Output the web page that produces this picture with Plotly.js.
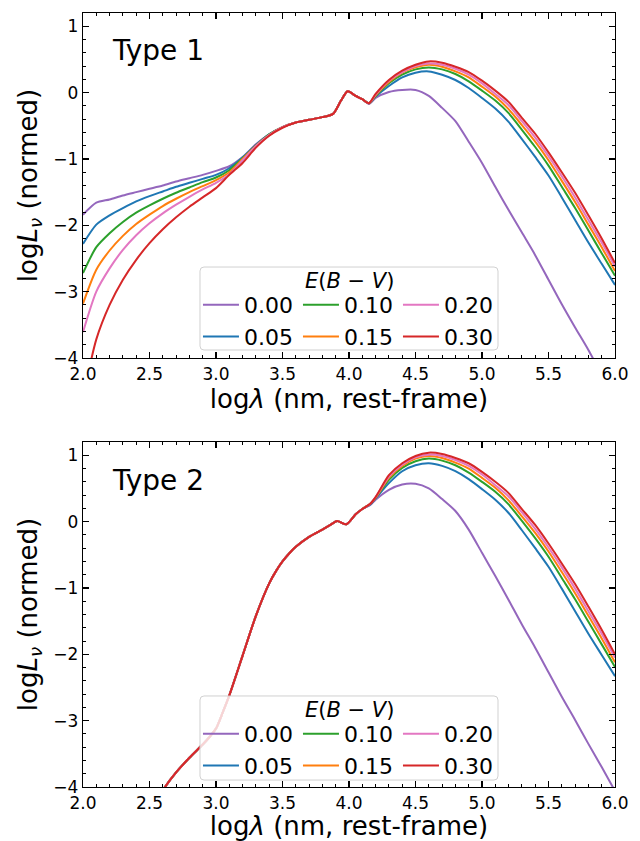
<!DOCTYPE html>
<html><head><meta charset="utf-8">
<script src="https://cdn.plot.ly/plotly-3.0.1.min.js"></script>
<style>html,body{margin:0;padding:0;background:#fff}#plot{width:640px;height:841px}</style>
</head><body><div id="plot"></div>
<script>
// ---------- data ----------
const ebvLabels = ['0.00', '0.05', '0.10', '0.15', '0.20', '0.30'];
const colors = ['#9467bd', '#1f77b4', '#2ca02c', '#ff7f0e', '#e377c2', '#d62728'];

// Type 1 (top panel)
const xType1 = [2.0, 2.1, 2.2, 2.3, 2.4, 2.5, 2.6, 2.7, 2.8, 2.9,
  3.0, 3.1, 3.2, 3.3, 3.4, 3.5, 3.6, 3.7, 3.8,
  3.88, 3.94, 3.99, 4.05, 4.1, 4.15,
  4.2, 4.3, 4.4, 4.5, 4.6, 4.7, 4.8, 4.9, 5.0, 5.1, 5.2, 5.3, 5.4, 5.5, 5.6, 5.7, 5.8, 5.9, 6.0];
const t1_000 = [-1.84, -1.66, -1.61, -1.55, -1.50, -1.45, -1.40, -1.34, -1.29, -1.24,
  -1.18, -1.11, -0.97, -0.78, -0.63, -0.52, -0.45, -0.41, -0.37,
  -0.32, -0.12, 0.02, -0.05, -0.10, -0.17,
  -0.08, 0.01, 0.04, 0.04, -0.05, -0.23, -0.43, -0.74, -1.06, -1.42, -1.77, -2.11, -2.45, -2.82, -3.19, -3.54, -3.88, -4.25, -4.60];
const t1_005 = [-2.28, -1.99, -1.85, -1.74, -1.64, -1.56, -1.49, -1.42, -1.36, -1.30,
  -1.24, -1.14, -0.98, -0.79, -0.63, -0.52, -0.45, -0.41, -0.37,
  -0.32, -0.12, 0.02, -0.05, -0.10, -0.16,
  -0.06, 0.10, 0.23, 0.30, 0.32, 0.27, 0.19, 0.07, -0.08, -0.24, -0.44, -0.70, -0.97, -1.25, -1.58, -1.92, -2.26, -2.58, -2.90];
const t1_010 = [-2.72, -2.33, -2.12, -1.95, -1.81, -1.70, -1.60, -1.51, -1.43, -1.35,
  -1.28, -1.17, -0.99, -0.80, -0.63, -0.52, -0.45, -0.41, -0.37,
  -0.32, -0.12, 0.02, -0.05, -0.10, -0.16,
  -0.05, 0.14, 0.27, 0.35, 0.38, 0.35, 0.28, 0.17, 0.03, -0.12, -0.31, -0.56, -0.82, -1.10, -1.42, -1.74, -2.08, -2.42, -2.76];
const t1_015 = [-3.18, -2.67, -2.38, -2.16, -1.98, -1.84, -1.71, -1.60, -1.50, -1.41,
  -1.32, -1.20, -1.00, -0.80, -0.64, -0.52, -0.45, -0.41, -0.37,
  -0.32, -0.12, 0.02, -0.05, -0.10, -0.16,
  -0.04, 0.16, 0.30, 0.38, 0.42, 0.39, 0.32, 0.23, 0.09, -0.06, -0.25, -0.49, -0.74, -1.02, -1.33, -1.65, -1.99, -2.33, -2.69];
const t1_020 = [-3.61, -3.00, -2.65, -2.37, -2.15, -1.97, -1.82, -1.69, -1.57, -1.46,
  -1.36, -1.23, -1.02, -0.81, -0.64, -0.52, -0.45, -0.41, -0.37,
  -0.32, -0.12, 0.02, -0.05, -0.10, -0.16,
  -0.03, 0.18, 0.31, 0.40, 0.44, 0.42, 0.36, 0.27, 0.14, -0.02, -0.19, -0.43, -0.68, -0.96, -1.26, -1.58, -1.92, -2.26, -2.62];
const t1_030 = [-4.60, -3.72, -3.20, -2.82, -2.52, -2.27, -2.06, -1.88, -1.72, -1.58,
  -1.44, -1.24, -1.06, -0.83, -0.65, -0.53, -0.45, -0.41, -0.37,
  -0.32, -0.12, 0.02, -0.05, -0.10, -0.16,
  -0.02, 0.19, 0.33, 0.42, 0.47, 0.45, 0.39, 0.31, 0.18, 0.03, -0.14, -0.38, -0.62, -0.90, -1.20, -1.51, -1.85, -2.20, -2.57];

// Type 2 (bottom panel)
const xType2 = [2.4, 2.5, 2.6, 2.7, 2.8, 2.9, 2.95, 3.0, 3.05, 3.1, 3.2, 3.3, 3.4, 3.45, 3.5, 3.55, 3.6, 3.7, 3.8,
  3.86, 3.91, 3.98, 4.05, 4.1,
  4.16, 4.2, 4.3, 4.4, 4.5, 4.6, 4.7, 4.8, 4.9, 5.0, 5.1, 5.2, 5.3, 5.4, 5.5, 5.6, 5.7, 5.8, 5.9, 6.0];
const t2_shared = [-4.75, -4.40, -4.05, -3.78, -3.56, -3.36, -3.25, -3.12, -2.88, -2.62, -2.02, -1.42, -0.93, -0.75, -0.60, -0.48, -0.38, -0.23, -0.12,
  -0.05, 0.01, -0.04, 0.11, 0.19];
const t2_000 = [0.25, 0.33, 0.48, 0.56, 0.57, 0.50, 0.34, 0.16, -0.12, -0.47, -0.82, -1.18, -1.55, -1.90, -2.27, -2.64, -2.99, -3.35, -3.70, -4.06];
const t2_005 = [0.26, 0.35, 0.58, 0.76, 0.85, 0.88, 0.84, 0.76, 0.64, 0.49, 0.33, 0.13, -0.13, -0.40, -0.68, -1.01, -1.35, -1.69, -2.01, -2.33];
const t2_010 = [0.27, 0.36, 0.63, 0.81, 0.91, 0.95, 0.92, 0.85, 0.74, 0.60, 0.45, 0.26, 0.01, -0.25, -0.53, -0.85, -1.17, -1.51, -1.85, -2.19];
const t2_015 = [0.27, 0.36, 0.66, 0.84, 0.95, 0.99, 0.96, 0.89, 0.80, 0.66, 0.51, 0.32, 0.08, -0.17, -0.45, -0.76, -1.08, -1.42, -1.76, -2.12];
const t2_020 = [0.27, 0.37, 0.68, 0.86, 0.97, 1.01, 0.99, 0.93, 0.84, 0.71, 0.55, 0.38, 0.14, -0.11, -0.39, -0.69, -1.01, -1.35, -1.69, -2.05];
const t2_030 = [0.27, 0.37, 0.70, 0.88, 0.99, 1.04, 1.02, 0.96, 0.88, 0.75, 0.60, 0.43, 0.19, -0.05, -0.33, -0.63, -0.94, -1.28, -1.63, -2.00];

const type1Series = [t1_000, t1_005, t1_010, t1_015, t1_020, t1_030];
const type2Series = [t2_000, t2_005, t2_010, t2_015, t2_020, t2_030];
const groups = ['c1', 'c1', 'c2', 'c2', 'c3', 'c3'];
const legendTitle = '<i>E</i>(<i>B</i> − <i>V</i>)';
const panelLabels = ['Type 1', 'Type 2'];

// ---------- traces ----------
const traces = [];
type1Series.forEach((ys, i) => {
  traces.push({x: xType1, y: ys, type: 'scatter', mode: 'lines', name: ebvLabels[i],
    line: {color: colors[i], width: 2, shape: 'spline', smoothing: 0.7}, xaxis: 'x', yaxis: 'y',
    legend: 'legend', legendgroup: 'top' + groups[i]});
});
type2Series.forEach((tail, i) => {
  traces.push({x: xType2, y: t2_shared.concat(tail), type: 'scatter', mode: 'lines', name: ebvLabels[i],
    line: {color: colors[i], width: 2, shape: 'spline', smoothing: 0.7}, xaxis: 'x2', yaxis: 'y2',
    legend: 'legend2', legendgroup: 'bot' + groups[i]});
});

// ---------- layout ----------
const FONT = 'DejaVu Sans';
function xAxis(anchor) {
  return {
    anchor: anchor, domain: [0, 1], range: [2, 6], tick0: 2, dtick: 0.5, tickformat: '.1f',
    ticks: 'inside', ticklen: 6, tickwidth: 1.1, tickcolor: '#000',
    showline: true, linecolor: '#000', linewidth: 1.2, mirror: 'allticks',
    showgrid: false, zeroline: false,
    minor: {ticks: 'inside', dtick: 0.1, ticklen: 3, tickwidth: 1, tickcolor: '#000', showgrid: false},
    tickfont: {family: FONT, size: 17, color: '#000'},
    title: {text: 'log<i>λ</i> (nm, rest-frame)', font: {family: FONT, size: 26, color: '#000'}, standoff: 6}
  };
}
function yAxis(anchor, dom) {
  return {
    anchor: anchor, domain: dom, range: [-4, 1.2], tick0: 0, dtick: 1,
    ticks: 'inside', ticklen: 6, tickwidth: 1.1, tickcolor: '#000',
    showline: true, linecolor: '#000', linewidth: 1.2, mirror: 'allticks',
    showgrid: false, zeroline: false,
    minor: {ticks: 'inside', dtick: 0.2, ticklen: 3, tickwidth: 1, tickcolor: '#000', showgrid: false},
    tickfont: {family: FONT, size: 17, color: '#000'},
    title: {text: 'log<i>L</i><sub><i>ν</i></sub> (normed)', font: {family: FONT, size: 26, color: '#000'}, standoff: 8}
  };
}
function legendCfg(ytop) {
  return {
    x: 0.2161, y: ytop, xanchor: 'left', yanchor: 'top', orientation: 'h',
    bgcolor: 'rgba(0,0,0,0)', borderwidth: 0,
    font: {family: FONT, size: 22, color: '#000'},
    entrywidth: 49, entrywidthmode: 'pixels',
    tracegroupgap: 0, itemwidth: 36
  };
}
// rounded legend frame (paper coords)
function frame(x0, x1, y0, y1) {
  const rx = 4 / 532, ry = 4 / 774;
  return {
    type: 'path', xref: 'paper', yref: 'paper', layer: 'above',
    path: `M ${x0 + rx} ${y0} L ${x1 - rx} ${y0} Q ${x1} ${y0} ${x1} ${y0 + ry} L ${x1} ${y1 - ry} Q ${x1} ${y1} ${x1 - rx} ${y1} ` +
          `L ${x0 + rx} ${y1} Q ${x0} ${y1} ${x0} ${y1 - ry} L ${x0} ${y0 + ry} Q ${x0} ${y0} ${x0 + rx} ${y0} Z`,
    fillcolor: 'rgba(255,255,255,0.8)', line: {color: 'rgba(204,204,204,0.9)', width: 1}
  };
}

const layout = {
  width: 640, height: 841,
  margin: {l: 83, r: 25, t: 13, b: 54},
  paper_bgcolor: '#fff', plot_bgcolor: '#fff',
  showlegend: true,
  font: {family: FONT, color: '#000'},
  xaxis: xAxis('y'),
  yaxis: yAxis('x', [0.5543, 1]),
  xaxis2: xAxis('y2'),
  yaxis2: yAxis('x2', [0, 0.4457]),
  legend: legendCfg(0.6498),
  legend2: legendCfg(0.0956),
  shapes: [frame(0.2199, 0.7801, 0.5646, 0.6718), frame(0.2199, 0.7801, 0.0090, 0.1176)],
  annotations: [
    {text: panelLabels[0], xref: 'paper', yref: 'paper', x: 0.05, y: 0.952, xanchor: 'left', yanchor: 'middle',
     showarrow: false, font: {family: FONT, size: 28, color: '#000'}},
    {text: panelLabels[1], xref: 'paper', yref: 'paper', x: 0.05, y: 0.3966, xanchor: 'left', yanchor: 'middle',
     showarrow: false, font: {family: FONT, size: 28, color: '#000'}},
    {text: legendTitle, xref: 'paper', yref: 'paper', x: 0.5, y: 0.6541, xanchor: 'center', yanchor: 'middle',
     showarrow: false, font: {family: FONT, size: 21, color: '#000'}},
    {text: legendTitle, xref: 'paper', yref: 'paper', x: 0.5, y: 0.0999, xanchor: 'center', yanchor: 'middle',
     showarrow: false, font: {family: FONT, size: 21, color: '#000'}}
  ]
};

Plotly.newPlot('plot', traces, layout, {displayModeBar: false, staticPlot: true});
</script>
</body></html>
